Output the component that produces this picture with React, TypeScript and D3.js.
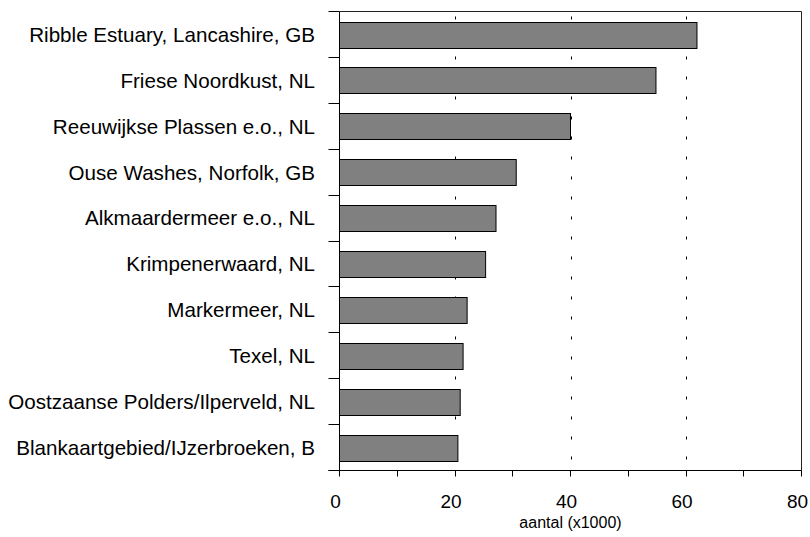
import React from "react";
import * as d3 from "d3";

const categories = [
  "Ribble Estuary, Lancashire, GB",
  "Friese Noordkust, NL",
  "Reeuwijkse Plassen e.o., NL",
  "Ouse Washes, Norfolk, GB",
  "Alkmaardermeer e.o., NL",
  "Krimpenerwaard, NL",
  "Markermeer, NL",
  "Texel, NL",
  "Oostzaanse Polders/Ilperveld, NL",
  "Blankaartgebied/IJzerbroeken, B",
];
const values = [61.9, 54.8, 40.0, 30.6, 27.1, 25.3, 22.1, 21.4, 20.9, 20.5];
const majorTicks = [0, 20, 40, 60, 80];
const minorTicks = [0, 10, 20, 30, 40, 50, 60, 70, 80];
const gridTicks = [20, 40, 60];
const xTitle = "aantal (x1000)";

const W = 810;
const H = 537;
const left = 339.5;
const right = 801.5;
const top = 11.5;
const bottom = 470.5;
const font = "Arial, 'Liberation Sans', sans-serif";

export default function App() {
  const x = d3.scaleLinear().domain([0, 80]).range([left, right]);
  const pad = 0.436;
  const y = d3
    .scaleBand<string>()
    .domain(categories)
    .range([top, bottom])
    .paddingInner(pad)
    .paddingOuter(pad / 2);
  const step = y.step();
  const bounds = d3.range(categories.length + 1).map((i) => top + i * step);

  return (
    <svg
      width={W}
      height={H}
      style={{ position: "absolute", left: 0, top: 0, background: "#fff" }}
    >
      {/* dashed gridlines */}
      {gridTicks.map((t) => (
        <line
          key={"g" + t}
          x1={Math.round(x(t)) + 0.5}
          x2={Math.round(x(t)) + 0.5}
          y1={top + 5}
          y2={bottom}
          stroke="#000"
          strokeWidth={1}
          strokeDasharray="3 17"
        />
      ))}
      {/* bars */}
      {categories.map((c, i) => (
        <rect
          key={c}
          x={x(0)}
          y={Math.round(y(c)!) + 0.5}
          width={x(values[i]) - x(0)}
          height={Math.round(y.bandwidth())}
          fill="#808080"
          stroke="#000"
          strokeWidth={1}
        />
      ))}
      {/* frame */}
      <line x1={left} x2={right} y1={top} y2={top} stroke="#222" />
      <line x1={right} x2={right} y1={top} y2={bottom} stroke="#222" />
      <line x1={left} x2={left} y1={top} y2={bottom} stroke="#000" />
      <line x1={left - 11} x2={right} y1={bottom} y2={bottom} stroke="#000" />
      {/* y ticks */}
      {bounds.map((b, i) => (
        <line
          key={"yt" + i}
          x1={left - 11}
          x2={left}
          y1={Math.round(b - 0.5) + 0.5}
          y2={Math.round(b - 0.5) + 0.5}
          stroke="#000"
        />
      ))}
      {/* x ticks */}
      {minorTicks.map((t) => (
        <line
          key={"xt" + t}
          x1={Math.round(x(t) - 0.5) + 0.5}
          x2={Math.round(x(t) - 0.5) + 0.5}
          y1={bottom}
          y2={bottom + 6}
          stroke="#000"
        />
      ))}
      {majorTicks.map((t) => (
        <text
          key={"xl" + t}
          x={x(t) - 4}
          y={508}
          textAnchor="middle"
          fontFamily={font}
          fontSize={19}
          fill="#000"
        >
          {t}
        </text>
      ))}
      <text
        x={(left + right) / 2}
        y={528}
        textAnchor="middle"
        fontFamily={font}
        fontSize={16}
        fill="#000"
      >
        {xTitle}
      </text>
      {/* category labels */}
      {categories.map((c) => (
        <text
          key={"l" + c}
          x={315}
          y={y(c)! + y.bandwidth() / 2 + 7.4}
          textAnchor="end"
          fontFamily={font}
          fontSize={20.6}
          fill="#000"
        >
          {c}
        </text>
      ))}
    </svg>
  );
}
